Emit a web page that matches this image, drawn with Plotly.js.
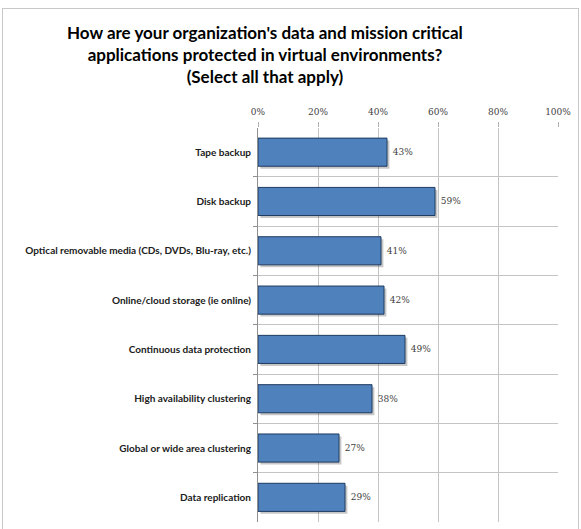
<!DOCTYPE html>
<html>
<head>
<meta charset="utf-8">
<script src="https://cdn.plot.ly/plotly-3.0.1.min.js"></script>
<style>
  html, body { margin: 0; padding: 0; background: #ffffff; }
  #frame { position: absolute; left: 2px; top: 8px; width: 577px; height: 540px; border: 1px solid #c8c8c8; box-sizing: border-box; }
  #chart { position: absolute; left: 0; top: 0; width: 581px; height: 529px; }
</style>
</head>
<body>
<div id="frame"></div>
<div id="chart"></div>
<script>
const categories = [
  "Tape backup",
  "Disk backup",
  "Optical removable media (CDs, DVDs, Blu-ray, etc.)",
  "Online/cloud storage (ie online)",
  "Continuous data protection",
  "High availability clustering",
  "Global or wide area clustering",
  "Data replication"
];
const percents = [43, 59, 41, 42, 49, 38, 27, 29];
const xTickValues = [0, 20, 40, 60, 80, 100];
const xTickLabels = ["0%", "20%", "40%", "60%", "80%", "100%"];

const barWidth = 0.57;

const shadow = {
  type: "bar",
  orientation: "h",
  y: categories,
  x: percents,
  base: 0.8,
  width: barWidth,
  offset: -barWidth / 2 + 0.05,
  marker: { color: "rgba(0,0,0,0.22)", line: { width: 0 } },
  hoverinfo: "skip"
};

const bars = {
  type: "bar",
  orientation: "h",
  y: categories,
  x: percents,
  text: percents.map(v => "\u00a0" + v + "%"),
  textposition: "outside",
  cliponaxis: false,
  textfont: { family: "DejaVu Serif, Liberation Serif, serif", size: 9, color: "#404040" },
  marker: { color: "#4F81BD", line: { color: "#1F3A60", width: 1 } },
  width: barWidth,
  offset: -barWidth / 2,
  hoverinfo: "skip"
};

const layout = {
  width: 581,
  height: 529,
  margin: { l: 258, r: 23, t: 128, b: 7 },
  paper_bgcolor: "rgba(0,0,0,0)",
  plot_bgcolor: "rgba(0,0,0,0)",
  showlegend: false,
  barmode: "overlay",
  title: {
    text: "How are your organization's data and mission critical<br>applications protected in virtual environments?<br>(Select all that apply)",
    font: { family: "Lato, Open Sans, sans-serif", size: 17, color: "#000000", weight: 700 },
    xref: "container", x: 0.456, xanchor: "center",
    yref: "container", y: 0.926, yanchor: "top"
  },
  xaxis: {
    side: "top",
    range: [0, 100],
    tickvals: xTickValues,
    ticktext: xTickLabels,
    ticks: "outside",
    ticklen: 5,
    tickcolor: "#b0b0b0",
    ticklabelstandoff: 3,
    showgrid: true,
    gridcolor: "#c4c4c4",
    gridwidth: 1,
    zeroline: false,
    showline: false,
    tickfont: { family: "DejaVu Serif, Liberation Serif, serif", size: 9, color: "#404040" },
    fixedrange: true
  },
  yaxis: {
    type: "category",
    range: [7.5, -0.49],
    tickson: "boundaries",
    ticks: "outside",
    ticklen: 4,
    tickcolor: "#909090",
    showgrid: true,
    gridcolor: "#c4c4c4",
    showline: true,
    linecolor: "#909090",
    zeroline: false,
    ticklabelstandoff: 4,
    tickfont: { family: "Lato, sans-serif", size: 10, color: "#202020", weight: 700 },
    fixedrange: true
  }
};

Plotly.newPlot("chart", [shadow, bars], layout, { displayModeBar: false, staticPlot: true });
</script>
</body>
</html>
